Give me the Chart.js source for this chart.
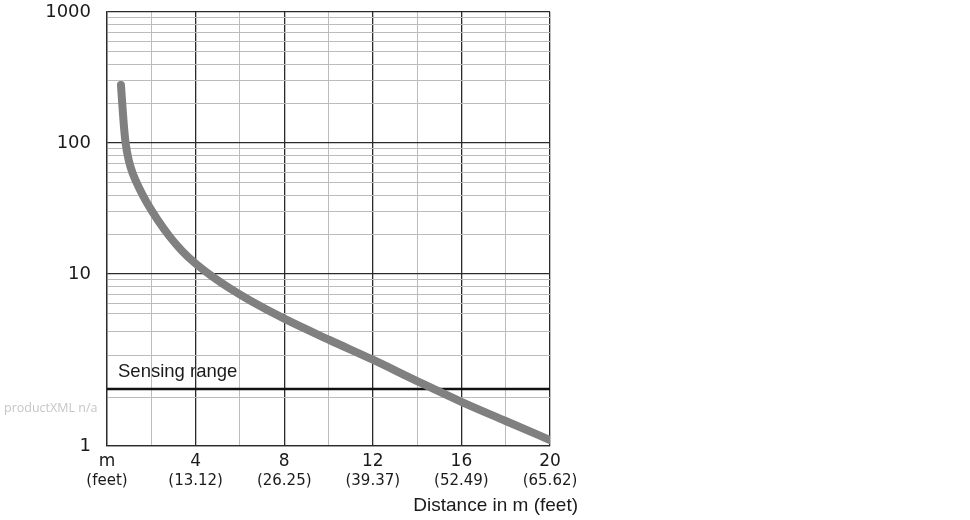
<!DOCTYPE html>
<html>
<head>
<meta charset="utf-8">
<title>Distance in m (feet)</title>
<script src="https://cdn.jsdelivr.net/npm/chart.js@4/dist/chart.umd.min.js"></script>
<style>
  html, body { margin: 0; padding: 0; background: #fff; }
  #wrap { width: 970px; height: 520px; }
</style>
</head>
<body>
<div id="wrap"><canvas id="chart" width="970" height="520"></canvas></div>
<script>
// ===== data =====
const distanceM = [0.63, 0.69, 0.76, 0.84, 0.98, 1.17, 1.45, 1.81, 2.26, 2.84, 3.39, 3.97,
  4.74, 5.55, 6.5, 8.0, 10.07, 12.0, 14.0, 16.0, 18.0, 20];
const curveValues = [277, 198, 137, 100, 74, 58, 45.4, 34.8, 26.3, 19.2, 15.0, 12.13,
  9.6, 7.75, 6.21, 4.69, 3.61, 2.85, 2.2, 1.71, 1.355, 1.075];

const sensingRange = 2;

const xGridValues = [0, 2, 4, 6, 8, 10, 12, 14, 16, 18, 20];
const xTickValues = [0, 4, 8, 12, 16, 20];
const meterLabels = ['m', '4', '8', '12', '16', '20'];
const feetLabels = ['(feet)', '(13.12)', '(26.25)', '(39.37)', '(52.49)', '(65.62)'];

const yGridValues = [1, 1.8, 2, 3, 4, 5, 6, 7, 8, 9, 10, 20, 30, 40, 50, 60, 70, 80, 90,
  100, 200, 300, 400, 500, 600, 700, 800, 900, 1000];
const yLabelValues = [1, 10, 100, 1000];

const TEXT_FONT = '"Liberation Sans", Arial, sans-serif';
const NUM_FONT = '"DejaVu Sans", sans-serif';
const DARK = '#2b2b2b';
const LIGHT = '#bcbcbc';

// the sheet draws the lowest decade taller than the others
class StretchLogScale extends Chart.LogarithmicScale {
  static id = 'stretchLog';
  static defaults = {};

  _split() {
    const lo = Math.log10(this.min), hi = Math.log10(this.max);
    const brk = Math.log10(5);
    const share = 0.3055; // part of the height taken by 1..5
    return { lo, hi, brk, share };
  }

  getPixelForValue(value) {
    if (value === undefined || value === 0) value = this.min;
    if (value === null || isNaN(value)) return NaN;
    const { lo, hi, brk, share } = this._split();
    const l = Math.log10(value);
    let dec;
    if (l <= brk) dec = (l - lo) / (brk - lo) * share;
    else dec = share + (l - brk) / (hi - brk) * (1 - share);
    return this.getPixelForDecimal(dec);
  }

  getValueForPixel(pixel) {
    const { lo, hi, brk, share } = this._split();
    const dec = this.getDecimalForPixel(pixel);
    let l;
    if (dec <= share) l = lo + dec / share * (brk - lo);
    else l = brk + (dec - share) / (1 - share) * (hi - brk);
    return Math.pow(10, l);
  }
}
Chart.register(StretchLogScale);

// texts that sit inside / beside the plot
const sheetText = {
  id: 'sheetText',
  afterDraw(chart) {
    const { ctx, scales } = chart;
    const x = scales.x, y = scales.y;
    ctx.save();
    ctx.fillStyle = '#1a1a1a';
    ctx.font = '18.5px ' + TEXT_FONT;
    ctx.textAlign = 'left';
    ctx.textBaseline = 'middle';
    ctx.fillText('Sensing range', x.getPixelForValue(0) + 11, y.getPixelForValue(sensingRange) - 17);

    ctx.font = '19px ' + TEXT_FONT;
    ctx.textAlign = 'right';
    ctx.fillText('Distance in m (feet)', x.getPixelForValue(20) + 28, 506);

    ctx.fillStyle = '#c6c6c6';
    ctx.font = '12.5px "Open Sans", sans-serif';
    ctx.textAlign = 'left';
    ctx.fillText('productXML n/a', 4, 408);
    ctx.restore();
  }
};

new Chart(document.getElementById('chart'), {
  type: 'line',
  data: {
    datasets: [{
      data: distanceM.map((d, i) => ({ x: d, y: curveValues[i] })),
      borderColor: '#808080',
      borderWidth: 8,
      borderCapStyle: 'round',
      borderJoinStyle: 'round',
      cubicInterpolationMode: 'monotone',
      pointRadius: 0,
      fill: false
    }, {
      data: [{ x: 0, y: sensingRange }, { x: 20, y: sensingRange }],
      borderColor: '#111',
      borderWidth: 2.5,
      pointRadius: 0,
      fill: false
    }]
  },
  options: {
    responsive: false,
    animation: false,
    layout: { padding: { left: 0, right: 420, top: 12, bottom: 27 } },
    plugins: {
      legend: { display: false },
      tooltip: { enabled: false }
    },
    scales: {
      x: {
        type: 'linear',
        position: 'bottom',
        min: 0,
        max: 20,
        afterBuildTicks: s => { s.ticks = xGridValues.map(v => ({ value: v })); },
        afterFit: s => { s.height = 25; },
        grid: {
          drawTicks: false,
          color: c => (c.tick && c.tick.value % 4 === 0) ? DARK : LIGHT,
          lineWidth: c => (c.tick && c.tick.value % 4 === 0) ? 1.3 : 1
        },
        border: { display: true, color: DARK, width: 1.3 },
        ticks: {
          autoSkip: false,
          maxRotation: 0,
          padding: 5,
          color: '#1a1a1a',
          font: { family: NUM_FONT, size: 17 },
          callback: v => {
            const i = xTickValues.indexOf(v);
            return i >= 0 ? meterLabels[i] : '';
          }
        }
      },
      x2: {
        type: 'linear',
        position: 'bottom',
        min: 0,
        max: 20,
        afterBuildTicks: s => { s.ticks = xTickValues.map(v => ({ value: v })); },
        afterFit: s => { s.height = 22; },
        grid: { display: false, drawTicks: false },
        border: { display: false },
        ticks: {
          autoSkip: false,
          maxRotation: 0,
          padding: 1,
          color: '#1a1a1a',
          font: { family: NUM_FONT, size: 15 },
          callback: v => {
            const i = xTickValues.indexOf(v);
            return i >= 0 ? feetLabels[i] : '';
          }
        }
      },
      y: {
        type: 'stretchLog',
        min: 1,
        max: 1000,
        afterBuildTicks: s => { s.ticks = yGridValues.map(v => ({ value: v })); },
        afterFit: s => {
          s.width = 107;
          // tick padding is horizontal only here; don't let it push the plot down
          s.paddingTop = 0;
          s.paddingBottom = 0;
        },
        grid: {
          drawTicks: false,
          color: c => (c.tick && yLabelValues.includes(c.tick.value)) ? DARK : LIGHT,
          lineWidth: c => (c.tick && yLabelValues.includes(c.tick.value)) ? 1.3 : 1
        },
        border: { display: true, color: DARK, width: 1.3 },
        ticks: {
          autoSkip: false,
          padding: 16,
          color: '#1a1a1a',
          font: { family: NUM_FONT, size: 18 },
          callback: v => yLabelValues.includes(v) ? String(v) : ''
        }
      }
    }
  },
  plugins: [sheetText]
});
</script>
</body>
</html>
